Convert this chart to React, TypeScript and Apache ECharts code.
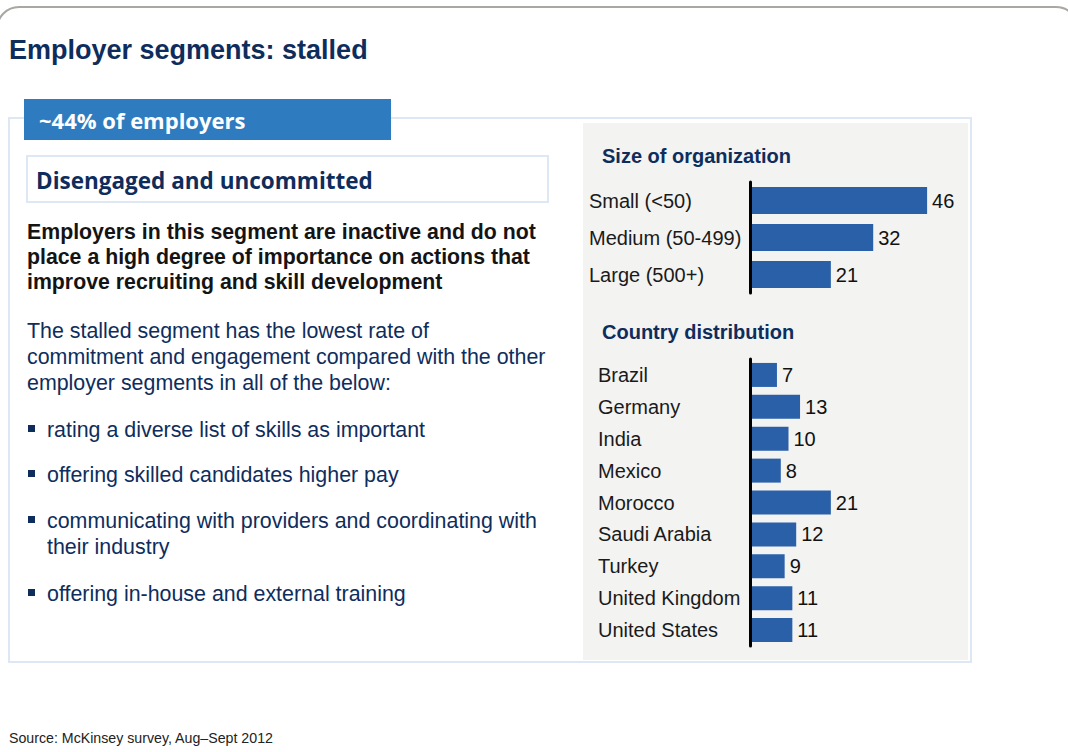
import React, { useEffect, useRef } from "react";
import * as echarts from "echarts";

const sizeCategories = ["Small (<50)", "Medium (50-499)", "Large (500+)"];
const sizeValues = [46, 32, 21];
const countryCategories = [
  "Brazil",
  "Germany",
  "India",
  "Mexico",
  "Morocco",
  "Saudi Arabia",
  "Turkey",
  "United Kingdom",
  "United States",
];
const countryValues = [7, 13, 10, 8, 21, 12, 9, 11, 11];

const titleText = "Employer segments: stalled";
const tabText = "~44% of employers";
const boxText = "Disengaged and uncommitted";
const boldLines = [
  "Employers in this segment are inactive and do not",
  "place a high degree of importance on actions that",
  "improve recruiting and skill development",
];
const introLines = [
  "The stalled segment has the lowest rate of",
  "commitment and engagement compared with the other",
  "employer segments in all of the below:",
];
const bullets = [
  ["rating a diverse list of skills as important"],
  ["offering skilled candidates higher pay"],
  ["communicating with providers and coordinating with", "their industry"],
  ["offering in-house and external training"],
];
const sizeTitle = "Size of organization";
const countryTitle = "Country distribution";
const sourceText = "Source: McKinsey survey, Aug\u2013Sept 2012";

const SANS = "'Liberation Sans', Arial, sans-serif";
const GOTHIC = "'Open Sans', 'DejaVu Sans', sans-serif";
const NAVY = "#0e2d5c";
const BAR = "#2a60a8";

export default function App() {
  const ref = useRef<HTMLDivElement>(null);
  useEffect(() => {
    if (!ref.current) return;
    const chart = echarts.init(ref.current, undefined, { renderer: "svg" });

    const txt = (text: string, x: number, y: number, font: string, fill: string, z = 10) => ({
      type: "text",
      x,
      y,
      z,
      style: { text, font, fill, align: "left", verticalAlign: "middle" },
    });

    const graphics: any[] = [];
    // outer rounded frame
    graphics.push({
      type: "rect",
      shape: { x: -3, y: 7, width: 1081, height: 800, r: 22 },
      style: { fill: "none", stroke: "#aaa6a2", lineWidth: 2 },
      z: 1,
    });
    // panel border
    graphics.push({
      type: "rect",
      shape: { x: 9, y: 118, width: 962, height: 544 },
      style: { fill: "#fff", stroke: "#dde8f4", lineWidth: 2 },
      z: 1,
    });
    // gray right panel
    graphics.push({
      type: "rect",
      shape: { x: 583, y: 123, width: 385, height: 537 },
      style: { fill: "#f3f3f2" },
      z: 2,
    });
    // tab
    graphics.push({
      type: "rect",
      shape: { x: 24, y: 99, width: 367, height: 41 },
      style: { fill: "#2e7cbf" },
      z: 3,
    });
    // box
    graphics.push({
      type: "rect",
      shape: { x: 27, y: 156, width: 521, height: 46 },
      style: { fill: "#fff", stroke: "#dde8f4", lineWidth: 2 },
      z: 3,
    });
    graphics.push(txt(titleText, 9, 50, `bold 27px ${SANS}`, NAVY));
    graphics.push(txt(tabText, 39, 120, `bold 22px ${GOTHIC}`, "#ffffff"));
    graphics.push(txt(boxText, 36, 180, `bold 22.5px ${GOTHIC}`, NAVY));
    const boldY = [232, 257, 282];
    boldLines.forEach((l, i) => graphics.push(txt(l, 27, boldY[i], `bold 21.3px ${SANS}`, "#141414")));
    const introY = [331, 357, 383];
    introLines.forEach((l, i) => graphics.push(txt(l, 27, introY[i], `21.4px ${SANS}`, NAVY)));
    const bulletY = [[430], [475], [521, 547], [594]];
    bullets.forEach((lines, i) => {
      graphics.push({
        type: "rect",
        shape: { x: 28, y: bulletY[i][0] - 5, width: 7, height: 7 },
        style: { fill: NAVY },
        z: 10,
      });
      lines.forEach((l, j) => graphics.push(txt(l, 47, bulletY[i][j], `21.4px ${SANS}`, NAVY)));
    });
    graphics.push(txt(sizeTitle, 602, 156, `bold 20px ${SANS}`, NAVY));
    graphics.push(txt(countryTitle, 602, 332, `bold 20px ${SANS}`, NAVY));
    graphics.push(
      txt(sourceText, 9, 738, `14.2px 'Liberation Sans Narrow', 'Arial Narrow', ${SANS}`, "#222")
    );

    const axisCommon = (cats: string[], idx: number, margin: number) => ({
      type: "category",
      gridIndex: idx,
      data: cats,
      inverse: true,
      axisLine: { show: true, lineStyle: { color: "#000", width: 3 } },
      axisTick: { show: false },
      axisLabel: {
        align: "left",
        margin,
        fontSize: 20,
        fontFamily: SANS,
        color: "#1a1a1a",
      },
      z: 5,
    });
    const valueAxis = (idx: number) => ({
      type: "value",
      gridIndex: idx,
      min: 0,
      max: 60,
      show: false,
      splitLine: { show: false },
    });
    const barSeries = (vals: number[], idx: number, bw: number) => ({
      type: "bar",
      xAxisIndex: idx,
      yAxisIndex: idx,
      data: vals,
      barWidth: bw,
      itemStyle: { color: BAR },
      z: 4,
      label: {
        show: true,
        position: "right",
        distance: 5,
        fontSize: 20,
        fontFamily: SANS,
        color: "#111",
      },
    });

    chart.setOption({
      animation: false,
      backgroundColor: "#ffffff",
      grid: [
        { left: 750, top: 182, width: 231, height: 111 },
        { left: 750, top: 359, width: 231, height: 287 },
      ],
      xAxis: [valueAxis(0), valueAxis(1)],
      yAxis: [axisCommon(sizeCategories, 0, 161), axisCommon(countryCategories, 1, 152)],
      series: [barSeries(sizeValues, 0, 27), barSeries(countryValues, 1, 24)],
      graphic: graphics,
    });
    return () => chart.dispose();
  }, []);
  return (
    <div
      ref={ref}
      style={{ position: "fixed", left: 0, top: 0, width: 1068, height: 752 }}
    />
  );
}
